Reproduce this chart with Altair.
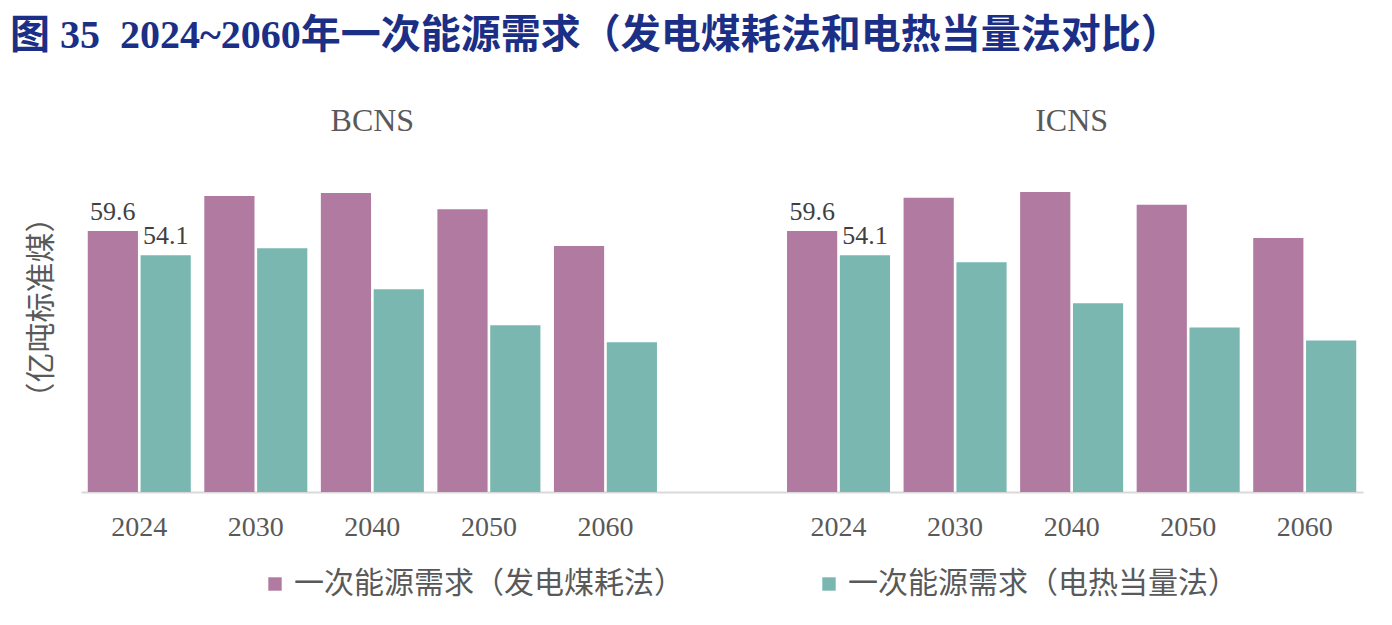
import altair as alt
import pandas as pd

years = ["2024", "2030", "2040", "2050", "2060"]
scenarios = ["BCNS", "ICNS"]
series = ["一次能源需求（发电煤耗法）", "一次能源需求（电热当量法）"]
bcns_coal = [59.6, 67.6, 68.3, 64.6, 56.2]
bcns_heat = [54.1, 55.7, 46.3, 38.1, 34.2]
icns_coal = [59.6, 67.2, 68.5, 65.6, 58.0]
icns_heat = [54.1, 52.5, 43.1, 37.6, 34.6]
colors = ["#B07AA1", "#7AB7B1"]

rows = []
for sc, coal, heat in [("BCNS", bcns_coal, bcns_heat), ("ICNS", icns_coal, icns_heat)]:
    for y, c, h in zip(years, coal, heat):
        rows.append({"cat": f"{sc} {y}", "scenario": sc, "year": y, "series": series[0], "value": c})
        rows.append({"cat": f"{sc} {y}", "scenario": sc, "year": y, "series": series[1], "value": h})
df = pd.DataFrame(rows)
domain = [f"BCNS {y}" for y in years] + [" "] + [f"ICNS {y}" for y in years]

title_df = pd.DataFrame({"scenario": scenarios, "cat": ["BCNS 2040", "ICNS 2040"]})

SERIF = "Liberation Serif, Noto Sans CJK SC"
CJK = "Noto Sans CJK SC"

x = alt.X(
    "cat:N",
    scale=alt.Scale(domain=domain, paddingInner=0.116, paddingOuter=0.058),
    axis=alt.Axis(
        title=None,
        labelExpr="length(datum.label) > 4 ? slice(datum.label, -4) : ''",
        labelAngle=0,
        ticks=False,
        domainColor="#D9D9D9",
        domainWidth=2,
        labelFontSize=28,
        labelFont=SERIF,
        labelColor="#595959",
        labelPadding=21,
    ),
)
y = alt.Y(
    "value:Q",
    scale=alt.Scale(domain=[0, 90], nice=False),
    axis=alt.Axis(
        title="（亿吨标准煤）",
        labels=False,
        ticks=False,
        domain=False,
        grid=False,
        titleFontSize=30,
        titleColor="#595959",
        titleFont=CJK,
        titleFontWeight="normal",
        titlePadding=25,
        titleY=209,
    ),
)
xoff = alt.XOffset("series:N", sort=series, scale=alt.Scale(paddingInner=0.05))
color = alt.Color(
    "series:N",
    sort=series,
    scale=alt.Scale(domain=series, range=colors),
    legend=alt.Legend(
        title=None,
        orient="none",
        legendX=179,
        legendY=471,
        direction="horizontal",
        symbolType="square",
        symbolSize=180,
        symbolStrokeWidth=0,
        labelFontSize=30,
        labelFont=CJK,
        labelColor="#595959",
        labelLimit=0,
        columnPadding=130,
        labelOffset=4,
    ),
)

bars = alt.Chart(df).mark_bar().encode(x=x, y=y, xOffset=xoff, color=color)

labels = (
    alt.Chart(df)
    .transform_filter(alt.datum.year == "2024")
    .mark_text(baseline="bottom", dy=-6, fontSize=26, font=SERIF, color="#404040")
    .encode(x=x, y=y, xOffset=xoff, text=alt.Text("value:Q", format=".1f"))
)

panel_titles = (
    alt.Chart(title_df)
    .mark_text(baseline="middle", fontSize=32, font=SERIF, color="#595959")
    .encode(x=alt.X("cat:N", scale=alt.Scale(domain=domain)), y=alt.value(23), text="scenario:N")
)

chart = (
    alt.layer(bars, labels, panel_titles)
    .properties(
        width=1282,
        height=394,
        autosize=alt.AutoSizeParams(type="none"),
        padding={"left": 81, "top": 98, "right": 29, "bottom": 133},
        title=alt.TitleParams(
            "图\u00a035\u00a0\u00a02024~2060年一次能源需求（发电煤耗法和电热当量法对比）",
            anchor="start",
            frame="group",
            fontSize=40,
            font=SERIF,
            fontWeight="bold",
            color="#1B2F86",
            dx=-71,
            offset=42,
        ),
    )
    .configure_view(stroke=None)
)

chart.save("out.html", embed_options={"renderer": "svg", "actions": False})
